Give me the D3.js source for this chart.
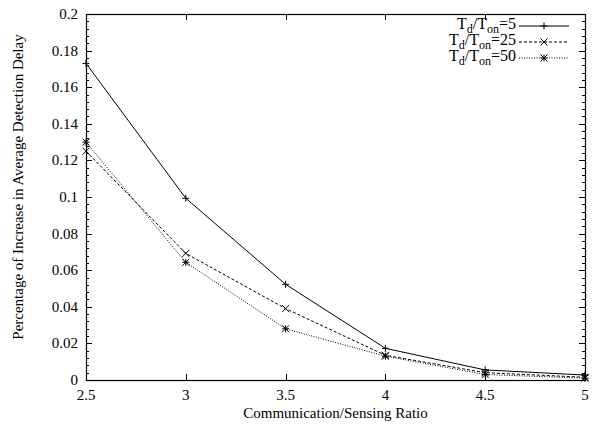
<!DOCTYPE html>
<html>
<head>
<meta charset="utf-8">
<script src="https://d3js.org/d3.v7.min.js"></script>
<style>
  body { margin: 0; background: #fff; }
  text { font-family: "Liberation Serif", "Times New Roman", serif; fill: #000; }
</style>
</head>
<body>
<script>
var ratios = [2.5, 3, 3.5, 4, 4.5, 5];
var delay5 = [0.173, 0.0993, 0.0523, 0.0173, 0.0055, 0.0027];
var delay25 = [0.125, 0.0692, 0.039, 0.0135, 0.004, 0.0015];
var delay50 = [0.130, 0.0643, 0.028, 0.013, 0.003, 0.001];
var seriesNames = ["5", "25", "50"];
var xTicks = [2.5, 3, 3.5, 4, 4.5, 5];
var yTicks = [0, 0.02, 0.04, 0.06, 0.08, 0.1, 0.12, 0.14, 0.16, 0.18, 0.2];

var W = 592, H = 431;
var mLeft = 86, mRight = 585, mTop = 14, mBottom = 380;

var svg = d3.select("body").append("svg")
  .attr("width", W).attr("height", H);

var x = d3.scaleLinear().domain([2.5, 5]).range([mLeft, mRight]);
var y = d3.scaleLinear().domain([0, 0.2]).range([mBottom, mTop]);

// minor y ticks
var minor = d3.range(0, 0.2001, 0.004).filter(function(v) {
  return Math.abs(v / 0.02 - Math.round(v / 0.02)) > 1e-6;
});

var ax = svg.append("g").attr("stroke", "#000").attr("stroke-width", 1);
yTicks.forEach(function(v) {
  var yy = Math.round(y(v)) + 0.5;
  ax.append("line").attr("x1", mLeft).attr("x2", mLeft + 6).attr("y1", yy).attr("y2", yy);
  ax.append("line").attr("x1", mRight - 6).attr("x2", mRight).attr("y1", yy).attr("y2", yy);
});
minor.forEach(function(v) {
  var yy = Math.round(y(v)) + 0.5;
  ax.append("line").attr("x1", mLeft).attr("x2", mLeft + 3).attr("y1", yy).attr("y2", yy);
  ax.append("line").attr("x1", mRight - 3).attr("x2", mRight).attr("y1", yy).attr("y2", yy);
});
xTicks.forEach(function(v) {
  var xx = Math.round(x(v)) + 0.5;
  ax.append("line").attr("x1", xx).attr("x2", xx).attr("y1", mBottom).attr("y2", mBottom - 6);
  ax.append("line").attr("x1", xx).attr("x2", xx).attr("y1", mTop).attr("y2", mTop + 6);
});

svg.append("rect")
  .attr("x", mLeft + 0.5).attr("y", mTop + 0.5)
  .attr("width", mRight - mLeft).attr("height", mBottom - mTop)
  .attr("fill", "none").attr("stroke", "#000").attr("stroke-width", 1.2);

// tick labels
svg.append("g").selectAll("text").data(yTicks).enter().append("text")
  .attr("x", mLeft - 8).attr("y", function(d) { return y(d) + 5; })
  .attr("text-anchor", "end").attr("font-size", 15)
  .text(function(d) { return d; });
svg.append("g").selectAll("text").data(xTicks).enter().append("text")
  .attr("x", function(d) { return x(d); }).attr("y", mBottom + 20)
  .attr("text-anchor", "middle").attr("font-size", 15)
  .text(function(d) { return d; });

svg.append("text").attr("x", (mLeft + mRight) / 2).attr("y", 418)
  .attr("text-anchor", "middle").attr("font-size", 15)
  .text("Communication/Sensing Ratio");
svg.append("text")
  .attr("transform", "translate(23,187) rotate(-90)")
  .attr("text-anchor", "middle").attr("font-size", 15)
  .text("Percentage of Increase in Average Detection Delay");

// series
var series = [
  { name: seriesNames[0], values: delay5, dash: null, mark: "plus" },
  { name: seriesNames[1], values: delay25, dash: "3,2", mark: "cross" },
  { name: seriesNames[2], values: delay50, dash: "1,1.5", mark: "star" }
];

var line = d3.line()
  .x(function(d) { return x(d[0]); })
  .y(function(d) { return y(d[1]); });

function marker(g, cx, cy, type) {
  var s = 3.5;
  var m = g.append("g").attr("stroke", "#000").attr("stroke-width", 1);
  if (type === "plus" || type === "star") {
    m.append("line").attr("x1", cx - s).attr("x2", cx + s).attr("y1", cy).attr("y2", cy);
    m.append("line").attr("x1", cx).attr("x2", cx).attr("y1", cy - s).attr("y2", cy + s);
  }
  if (type === "cross" || type === "star") {
    m.append("line").attr("x1", cx - s).attr("x2", cx + s).attr("y1", cy - s).attr("y2", cy + s);
    m.append("line").attr("x1", cx - s).attr("x2", cx + s).attr("y1", cy + s).attr("y2", cy - s);
  }
}

series.forEach(function(s) {
  var pts = ratios.map(function(r, i) { return [r, s.values[i]]; });
  var g = svg.append("g");
  g.append("path").attr("d", line(pts))
    .attr("fill", "none").attr("stroke", "#000").attr("stroke-width", 1)
    .attr("stroke-dasharray", s.dash);
  pts.forEach(function(p) { marker(g, x(p[0]), y(p[1]), s.mark); });
});

// legend
var lg = svg.append("g");
series.forEach(function(s, i) {
  var ly = 26 + i * 16;
  var t = lg.append("text").attr("x", 516).attr("y", ly + 3)
    .attr("text-anchor", "end").attr("font-size", 16);
  t.append("tspan").text("T");
  t.append("tspan").attr("dy", 4).attr("font-size", 12).text("d");
  t.append("tspan").attr("dy", -4).text("/T");
  t.append("tspan").attr("dy", 4).attr("font-size", 12).text("on");
  t.append("tspan").attr("dy", -4).text("=" + s.name);
  lg.append("line").attr("x1", 519).attr("x2", 569).attr("y1", ly).attr("y2", ly)
    .attr("stroke", "#000").attr("stroke-width", 1).attr("stroke-dasharray", s.dash);
  marker(lg, 544, ly, s.mark);
});
</script>
</body>
</html>
